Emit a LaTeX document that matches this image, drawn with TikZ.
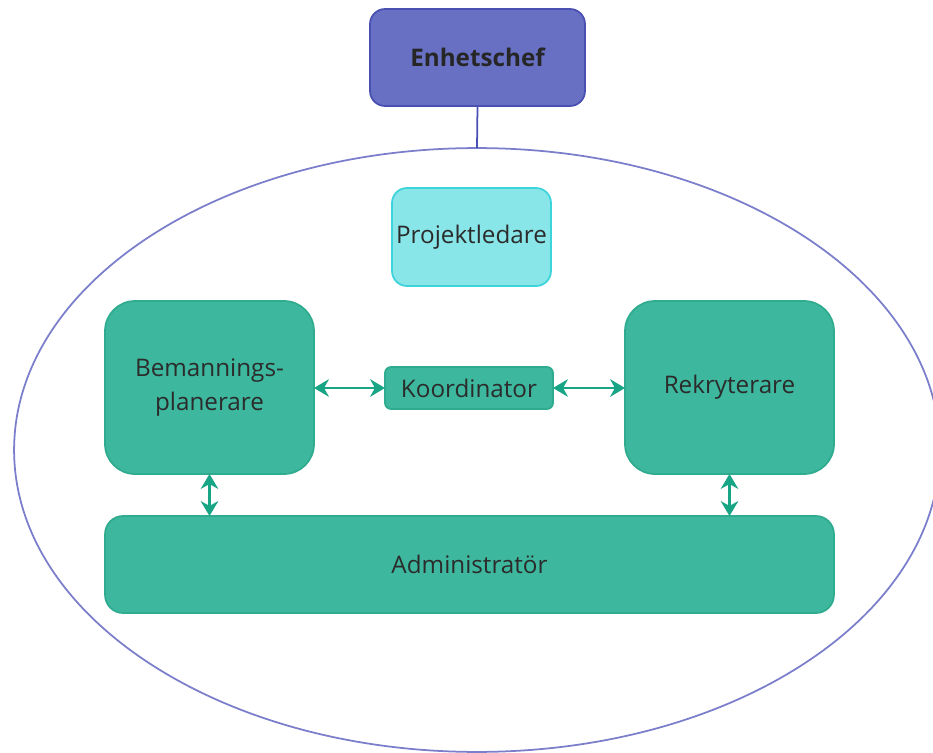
\documentclass[tikz,border=0pt]{standalone}
\usepackage{fontspec}
\setmainfont{Open Sans}
\usepackage{tikz}
\usetikzlibrary{arrows.meta,positioning}
\definecolor{chefFill}{HTML}{6870C4}
\definecolor{chefEdge}{HTML}{4A50B2}
\definecolor{ringEdge}{HTML}{7A7ECB}
\definecolor{leadFill}{HTML}{88E6E9}
\definecolor{leadEdge}{HTML}{3DD3DB}
\definecolor{teamFill}{HTML}{3DB89E}
\definecolor{teamEdge}{HTML}{2FAB8F}
\definecolor{linkGreen}{HTML}{17A585}
\definecolor{textGray}{HTML}{2B2B2B}
\tikzstyle{every node}=[font=\fontsize{13.8}{19.8}\selectfont,text=textGray,align=center,inner sep=0pt,outer sep=0pt]
\tikzstyle{chef}=[draw=chefEdge,fill=chefFill,line width=1pt,rounded corners=0.3cm,font=\fontsize{13.8}{19.8}\selectfont\bfseries,text=black!85]
\tikzstyle{lead}=[draw=leadEdge,fill=leadFill,line width=1pt,rounded corners=0.3cm]
\tikzstyle{team}=[draw=teamEdge,fill=teamFill,line width=1pt,rounded corners=0.6cm]
\tikzstyle{link}=[draw=linkGreen,line width=1.2pt,{Stealth[length=8.5pt,width=10pt]}-{Stealth[length=8.5pt,width=10pt]}]

\begin{document}
\begin{tikzpicture}[x=0.02cm,y=-0.02cm]
  \clip (0,0) rectangle (933,753);
  \useasboundingbox (0,0) rectangle (933,753);

  % outer ring
  \draw[ringEdge,line width=1pt] (477,450) ellipse [x radius=9.26cm,y radius=6.04cm];
  \coordinate (ringtop) at (477,148);

  \node[chef,minimum width=4.3cm,minimum height=1.94cm] (chef) at (477.5,57.5) {Enhetschef};
  \node[lead,minimum width=3.18cm,minimum height=1.96cm] (lead) at (471.5,237) {Projektledare};
  \node[team,minimum width=4.18cm,minimum height=3.46cm] (plan) at (209.5,387.5) {Bemannings-\\planerare};
  \node[team,minimum width=4.18cm,minimum height=3.46cm] (rekr) at (729.5,387.5) {Rekryterare};
  \node[team,rounded corners=0.12cm,minimum width=3.36cm,minimum height=0.84cm] (koord) at (469,388) {Koordinator};
  \node[team,rounded corners=0.36cm,minimum width=14.58cm,minimum height=1.94cm] (admin) at (469.5,564.5) {Administratör};

  \draw[chefEdge,line width=1pt] (chef.south) -- (ringtop);

  \path[link] (plan.east |- koord) -- (koord.west);
  \path[link] (koord.east) -- (rekr.west |- koord);
  \path[link] (plan.south) -- (plan.south |- admin.north);
  \path[link] (rekr.south) -- (rekr.south |- admin.north);
\end{tikzpicture}
\end{document}
